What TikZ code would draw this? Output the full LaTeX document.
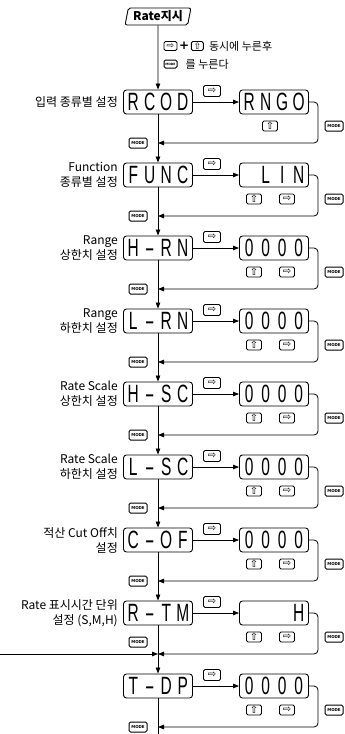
\documentclass[tikz,border=0pt]{standalone}
\usepackage{fontspec}
\setmainfont{Noto Sans CJK KR}
\newfontfamily\symfont{DejaVu Sans}
\newfontfamily\dispfont[FakeStretch=0.62]{Liberation Sans}
\usetikzlibrary{positioning,arrows.meta,shapes.geometric}
\newcommand\segc[1]{\makebox[16.5pt]{#1}}
\newcommand\segdash{\scalebox{1.9}[1]{-}}

\begin{document}
\begin{tikzpicture}[x=1pt, y=-1pt,
    dispBox/.style={rectangle, rounded corners=3pt, draw, line width=0.9pt, minimum width=69pt, minimum height=24pt, inner sep=0pt, font=\dispfont\fontsize{25}{25}\selectfont},
    keyBox/.style={rectangle, rounded corners=1.5pt, draw, line width=0.9pt, minimum width=15pt, minimum height=10pt, inner sep=0pt, font=\symfont\fontsize{10}{10}\selectfont},
    topKey/.style={keyBox, minimum width=17pt, minimum height=11pt},
    modeKey/.style={rectangle, rounded corners=1.5pt, draw, line width=1pt, minimum width=18pt, minimum height=10pt, inner sep=0pt, font=\symfont\bfseries\fontsize{4}{4}\selectfont},
    sideLabel/.style={anchor=east, align=right, inner sep=0pt, font=\fontsize{12}{15}\selectfont},
    noteText/.style={inner sep=0pt, font=\fontsize{11}{11}\selectfont},
    flow/.style={line width=0.8pt, -{Triangle[length=6pt,width=4.5pt]}},
    back/.style={flow, rounded corners=4pt}
]
    \useasboundingbox (0,0) rectangle (345,734);
    \def\xm{158}   % main line
    \def\xv{274}   % value box
    \def\xr{318}   % right return line
    \def\xl{118}   % right edge of side labels

    % Start
    \node[trapezium, trapezium left angle=78, trapezium right angle=102, trapezium stretches=true, draw, line width=0.9pt, rounded corners=2pt, minimum width=66pt, minimum height=17pt, inner sep=1pt, font=\bfseries\fontsize{12}{12}\selectfont] (rate) at (\xm,16.5) {Rate지시};

    % Key note
    \node[keyBox, minimum width=13pt, minimum height=9pt, font=\symfont\fontsize{9}{9}\selectfont] (noteK1) at (170.5,46) {⇨};
    \node[right=1.5pt of noteK1, inner sep=0pt, font=\symfont\bfseries\fontsize{12}{12}\selectfont] (notePlus) {+};
    \node[keyBox, minimum width=12pt, minimum height=9pt, font=\symfont\fontsize{9}{9}\selectfont, right=1.5pt of notePlus] (noteK2) {⇧};
    \node[noteText, right=5pt of noteK2] (noteT1) {동시에 누른후};
    \node[modeKey, minimum width=13pt, minimum height=8pt, font=\symfont\bfseries\fontsize{3}{3}\selectfont] (noteK3) at (170.5,64) {MODE};
    \node[noteText, right=8pt of noteK3] (noteT2) {를 누른다};

    % RCOD
    \node[dispBox] (rcod) at (\xm,102) {\segc{R}\segc{C}\segc{O}\segc{D}};
    \node[dispBox] (rngo) at (\xv,102) {\segc{R}\segc{N}\segc{G}\segc{O}};
    \node[sideLabel] (lRcod) at (\xl,102) {입력 종류별 설정};
    \node[topKey] (kRcod) at (212,91) {⇨};
    \node[keyBox] (uRcod) at (270,126) {⇧};
    \node[modeKey] (mRcod) at (334,126) {MODE};
    \node[modeKey] (nRcod) at (138,143) {MODE};
    \coordinate (cRcod) at (\xr,143);
    \coordinate (jRcod) at (\xm,143);

    % FUNC
    \node[dispBox] (func) at (\xm,175) {\segc{F}\segc{U}\segc{N}\segc{C}};
    \node[dispBox] (lin) at (\xv,175) {\segc{}\segc{L}\segc{I}\segc{N}};
    \node[sideLabel] (lFunc) at (\xl,175) {Function\\종류별 설정};
    \node[topKey] (kFunc) at (212,164) {⇨};
    \node[keyBox] (uFunc) at (254,199) {⇧};
    \node[keyBox] (rFunc) at (287,199) {⇨};
    \node[modeKey] (mFunc) at (334,199) {MODE};
    \node[modeKey] (nFunc) at (138,216) {MODE};
    \coordinate (cFunc) at (\xr,216);
    \coordinate (jFunc) at (\xm,216);

    % H-RN
    \node[dispBox] (hrn) at (\xm,248) {\segc{H}\segc{\segdash}\segc{R}\segc{N}};
    \node[dispBox] (hrnVal) at (\xv,248) {\segc{0}\segc{0}\segc{0}\segc{0}};
    \node[sideLabel] (lHrn) at (\xl,248) {Range\\상한치 설정};
    \node[topKey] (kHrn) at (212,237) {⇨};
    \node[keyBox] (uHrn) at (254,272) {⇧};
    \node[keyBox] (rHrn) at (287,272) {⇨};
    \node[modeKey] (mHrn) at (334,272) {MODE};
    \node[modeKey] (nHrn) at (138,289) {MODE};
    \coordinate (cHrn) at (\xr,289);
    \coordinate (jHrn) at (\xm,289);

    % L-RN
    \node[dispBox] (lrn) at (\xm,321) {\segc{L}\segc{\segdash}\segc{R}\segc{N}};
    \node[dispBox] (lrnVal) at (\xv,321) {\segc{0}\segc{0}\segc{0}\segc{0}};
    \node[sideLabel] (lLrn) at (\xl,321) {Range\\하한치 설정};
    \node[topKey] (kLrn) at (212,310) {⇨};
    \node[keyBox] (uLrn) at (254,345) {⇧};
    \node[keyBox] (rLrn) at (287,345) {⇨};
    \node[modeKey] (mLrn) at (334,345) {MODE};
    \node[modeKey] (nLrn) at (138,362) {MODE};
    \coordinate (cLrn) at (\xr,362);
    \coordinate (jLrn) at (\xm,362);

    % H-SC
    \node[dispBox] (hsc) at (\xm,394) {\segc{H}\segc{\segdash}\segc{S}\segc{C}};
    \node[dispBox] (hscVal) at (\xv,394) {\segc{0}\segc{0}\segc{0}\segc{0}};
    \node[sideLabel] (lHsc) at (\xl,394) {Rate Scale\\상한치 설정};
    \node[topKey] (kHsc) at (212,383) {⇨};
    \node[keyBox] (uHsc) at (254,418) {⇧};
    \node[keyBox] (rHsc) at (287,418) {⇨};
    \node[modeKey] (mHsc) at (334,418) {MODE};
    \node[modeKey] (nHsc) at (138,435) {MODE};
    \coordinate (cHsc) at (\xr,435);
    \coordinate (jHsc) at (\xm,435);

    % L-SC
    \node[dispBox] (lsc) at (\xm,467) {\segc{L}\segc{\segdash}\segc{S}\segc{C}};
    \node[dispBox] (lscVal) at (\xv,467) {\segc{0}\segc{0}\segc{0}\segc{0}};
    \node[sideLabel] (lLsc) at (\xl,467) {Rate Scale\\하한치 설정};
    \node[topKey] (kLsc) at (212,456) {⇨};
    \node[keyBox] (uLsc) at (254,491) {⇧};
    \node[keyBox] (rLsc) at (287,491) {⇨};
    \node[modeKey] (mLsc) at (334,491) {MODE};
    \node[modeKey] (nLsc) at (138,508) {MODE};
    \coordinate (cLsc) at (\xr,508);
    \coordinate (jLsc) at (\xm,508);

    % C-OF
    \node[dispBox] (cof) at (\xm,540) {\segc{C}\segc{\segdash}\segc{O}\segc{F}};
    \node[dispBox] (cofVal) at (\xv,540) {\segc{0}\segc{0}\segc{0}\segc{0}};
    \node[sideLabel] (lCof) at (\xl,540) {적산 Cut Off치\\설정};
    \node[topKey] (kCof) at (212,529) {⇨};
    \node[keyBox] (uCof) at (254,564) {⇧};
    \node[keyBox] (rCof) at (287,564) {⇨};
    \node[modeKey] (mCof) at (334,564) {MODE};
    \node[modeKey] (nCof) at (138,581) {MODE};
    \coordinate (cCof) at (\xr,581);
    \coordinate (jCof) at (\xm,581);

    % R-TM
    \node[dispBox] (rtm) at (\xm,613) {\segc{R}\segc{\segdash}\segc{T}\segc{M}};
    \node[dispBox] (rtmVal) at (\xv,613) {\segc{}\segc{}\segc{}\segc{H}};
    \node[sideLabel] (lRtm) at (\xl,613) {Rate 표시시간 단위\\설정 (S,M,H)};
    \node[topKey] (kRtm) at (212,602) {⇨};
    \node[keyBox] (uRtm) at (254,637) {⇧};
    \node[keyBox] (rRtm) at (287,637) {⇨};
    \node[modeKey] (mRtm) at (334,637) {MODE};
    \node[modeKey] (nRtm) at (138,642) {MODE};
    \coordinate (cRtm) at (\xr,654);
    \coordinate (jRtm) at (\xm,654);
    \coordinate (inLeft) at (0,654);

    % T-DP
    \node[dispBox] (tdp) at (\xm,686) {\segc{T}\segc{\segdash}\segc{D}\segc{P}};
    \node[dispBox] (tdpVal) at (\xv,686) {\segc{0}\segc{0}\segc{0}\segc{0}};
    \node[topKey] (kTdp) at (212,675) {⇨};
    \node[keyBox] (uTdp) at (254,710) {⇧};
    \node[keyBox] (rTdp) at (287,710) {⇨};
    \node[modeKey] (mTdp) at (334,710) {MODE};
    \node[modeKey] (nTdp) at (138,727) {MODE};
    \coordinate (cTdp) at (\xr,727);
    \coordinate (jTdp) at (\xm,727);
    \coordinate (endMain) at (\xm,734);

    % Main line
    \draw[flow] (rate) -- (rcod);
    \draw[flow] (rcod) -- (func);
    \draw[flow] (func) -- (hrn);
    \draw[flow] (hrn) -- (lrn);
    \draw[flow] (lrn) -- (hsc);
    \draw[flow] (hsc) -- (lsc);
    \draw[flow] (lsc) -- (cof);
    \draw[flow] (cof) -- (rtm);
    \draw[flow] (rtm) -- (tdp);
    \draw[line width=0.8pt] (tdp) -- (endMain);

    % Value entry and return
    \draw[flow] (rcod) -- (rngo);
    \draw[back] (rngo.east) -| (cRcod) -- (jRcod);
    \draw[flow] (func) -- (lin);
    \draw[back] (lin.east) -| (cFunc) -- (jFunc);
    \draw[flow] (hrn) -- (hrnVal);
    \draw[back] (hrnVal.east) -| (cHrn) -- (jHrn);
    \draw[flow] (lrn) -- (lrnVal);
    \draw[back] (lrnVal.east) -| (cLrn) -- (jLrn);
    \draw[flow] (hsc) -- (hscVal);
    \draw[back] (hscVal.east) -| (cHsc) -- (jHsc);
    \draw[flow] (lsc) -- (lscVal);
    \draw[back] (lscVal.east) -| (cLsc) -- (jLsc);
    \draw[flow] (cof) -- (cofVal);
    \draw[back] (cofVal.east) -| (cCof) -- (jCof);
    \draw[flow] (rtm) -- (rtmVal);
    \draw[back] (rtmVal.east) -| (cRtm) -- (jRtm);
    \draw[flow] (inLeft) -- (jRtm);
    \draw[flow] (tdp) -- (tdpVal);
    \draw[back] (tdpVal.east) -| (cTdp) -- (jTdp);
\end{tikzpicture}
\end{document}
